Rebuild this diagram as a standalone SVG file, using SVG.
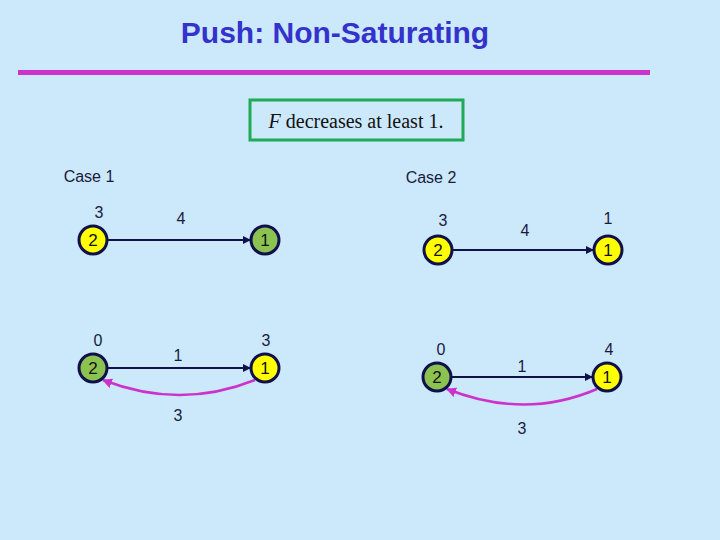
<svg xmlns="http://www.w3.org/2000/svg" width="720" height="540" viewBox="0 0 720 540">
<style>
text{font-family:"Liberation Sans",Arial,sans-serif;fill:#1a1a40;font-size:16px;text-anchor:middle}
.n circle{stroke:#10104a;stroke-width:3}
.y{fill:#ffff00}.g{fill:#8cc250}
.n text{font-size:17px;fill:#111}
.e{stroke:#10104a;stroke-width:2;fill:none;marker-end:url(#a)}
.p{stroke:#cc33cc;stroke-width:2.5;fill:none;marker-end:url(#b)}
</style>
<defs>
<marker id="a" markerWidth="8" markerHeight="8" refX="7" refY="4" orient="auto" markerUnits="userSpaceOnUse"><path d="M0,0L8,4L0,8z" fill="#10104a"/></marker>
<marker id="b" markerWidth="10" markerHeight="10" refX="9" refY="5" orient="auto" markerUnits="userSpaceOnUse"><path d="M0,0L10,5L0,10z" fill="#cc33cc"/></marker>
</defs>
<rect width="720" height="540" fill="#cce8fb"/>
<text x="335" y="43" style="font-size:30px;font-weight:bold;fill:#3333cc">Push: Non-Saturating</text>
<rect x="18" y="70" width="632" height="5" fill="#cc33cc"/>
<rect x="250" y="100" width="213" height="40" fill="none" stroke="#1faa55" stroke-width="3"/>
<text x="356" y="128" style="font-family:'Liberation Serif',serif;font-size:20px;fill:#111"><tspan font-style="italic">F</tspan> decreases at least 1.</text>
<text x="89" y="182">Case 1</text>
<text x="431" y="183">Case 2</text>
<g id="connectors">
<line class="e" x1="108" y1="240" x2="250" y2="240"/>
<line class="e" x1="108" y1="368" x2="250" y2="368"/>
<path class="p" d="M255,380 Q180,410 103,380"/>
<line class="e" x1="453" y1="250" x2="593" y2="250"/>
<line class="e" x1="452" y1="377" x2="592" y2="377"/>
<path class="p" d="M597,389 Q525,420 447,389"/>
</g>
<g id="labels">
<text x="99" y="218">3</text><text x="181" y="224">4</text>
<text x="98" y="346">0</text><text x="178" y="361">1</text><text x="266" y="346">3</text><text x="178" y="421">3</text>
<text x="443" y="226">3</text><text x="525" y="236">4</text><text x="608" y="224">1</text>
<text x="441" y="355">0</text><text x="522" y="372">1</text><text x="609" y="355">4</text><text x="522" y="434">3</text>
</g>
<g id="c1a" class="n"><circle cx="93" cy="240" r="14" class="y"/><text x="93" y="246">2</text></g>
<g id="c1b" class="n"><circle cx="265" cy="240" r="14" class="g"/><text x="265" y="246">1</text></g>
<g id="c1c" class="n"><circle cx="93" cy="368" r="14" class="g"/><text x="93" y="374">2</text></g>
<g id="c1d" class="n"><circle cx="265" cy="368" r="14" class="y"/><text x="265" y="374">1</text></g>
<g id="c2a" class="n"><circle cx="438" cy="250" r="14" class="y"/><text x="438" y="256">2</text></g>
<g id="c2b" class="n"><circle cx="608" cy="250" r="14" class="y"/><text x="608" y="256">1</text></g>
<g id="c2c" class="n"><circle cx="437" cy="377" r="14" class="g"/><text x="437" y="383">2</text></g>
<g id="c2d" class="n"><circle cx="607" cy="377" r="14" class="y"/><text x="607" y="383">1</text></g>
</svg>
